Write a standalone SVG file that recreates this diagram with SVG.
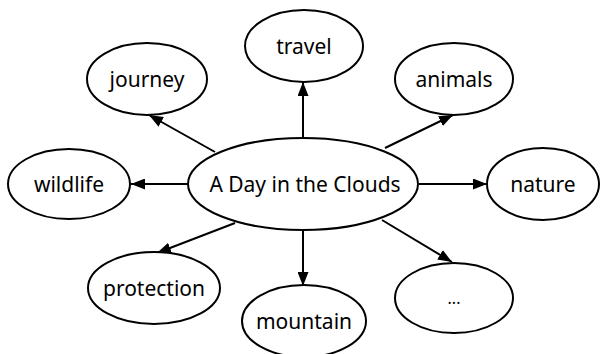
<svg xmlns="http://www.w3.org/2000/svg" width="600" height="354" viewBox="0 0 600 354">
<style>
ellipse{fill:#fff;stroke:#000;stroke-width:2}
text{font-family:"Noto Sans","Open Sans",sans-serif;font-size:21px;fill:#000;text-anchor:middle;dominant-baseline:central}
.c line{stroke:#000;stroke-width:2;marker-end:url(#ah)}
</style>
<defs>
<marker id="ah" viewBox="0 0 14 11" refX="14" refY="5.5" markerWidth="14" markerHeight="11" markerUnits="userSpaceOnUse" orient="auto">
<path d="M0,0 L14,5.5 L0,11 z" fill="#000"/>
</marker>
</defs>
<g class="c" id="connectors">
<line x1="303" y1="138" x2="303" y2="82"/>
<line x1="215" y1="152" x2="149" y2="115"/>
<line x1="385" y1="148" x2="453" y2="115"/>
<line x1="188" y1="184" x2="131" y2="184"/>
<line x1="419" y1="184" x2="487" y2="184"/>
<line x1="235" y1="223" x2="157" y2="253"/>
<line x1="303" y1="230" x2="303" y2="286"/>
<line x1="382" y1="220" x2="452" y2="262"/>
</g>
<g id="center"><ellipse cx="303" cy="184" rx="115" ry="46"/><text x="305" y="184">A Day in the Clouds</text></g>
<g id="travel"><ellipse cx="304" cy="46" rx="59" ry="36"/><text x="304" y="46">travel</text></g>
<g id="journey"><ellipse cx="147" cy="79" rx="60" ry="36"/><text x="147" y="79">journey</text></g>
<g id="animals"><ellipse cx="454" cy="79" rx="59" ry="36"/><text x="454" y="79">animals</text></g>
<g id="wildlife"><ellipse cx="69" cy="184" rx="61" ry="35"/><text x="69" y="184">wildlife</text></g>
<g id="nature"><ellipse cx="543" cy="184" rx="56" ry="36"/><text x="543" y="184">nature</text></g>
<g id="protection"><ellipse cx="154" cy="288" rx="66" ry="36"/><text x="154" y="288">protection</text></g>
<g id="mountain"><ellipse cx="304" cy="321" rx="62" ry="36"/><text x="304" y="321">mountain</text></g>
<g id="more"><ellipse cx="454" cy="298" rx="59" ry="35"/><text x="454" y="298" style="font-size:16px">...</text></g>
</svg>
